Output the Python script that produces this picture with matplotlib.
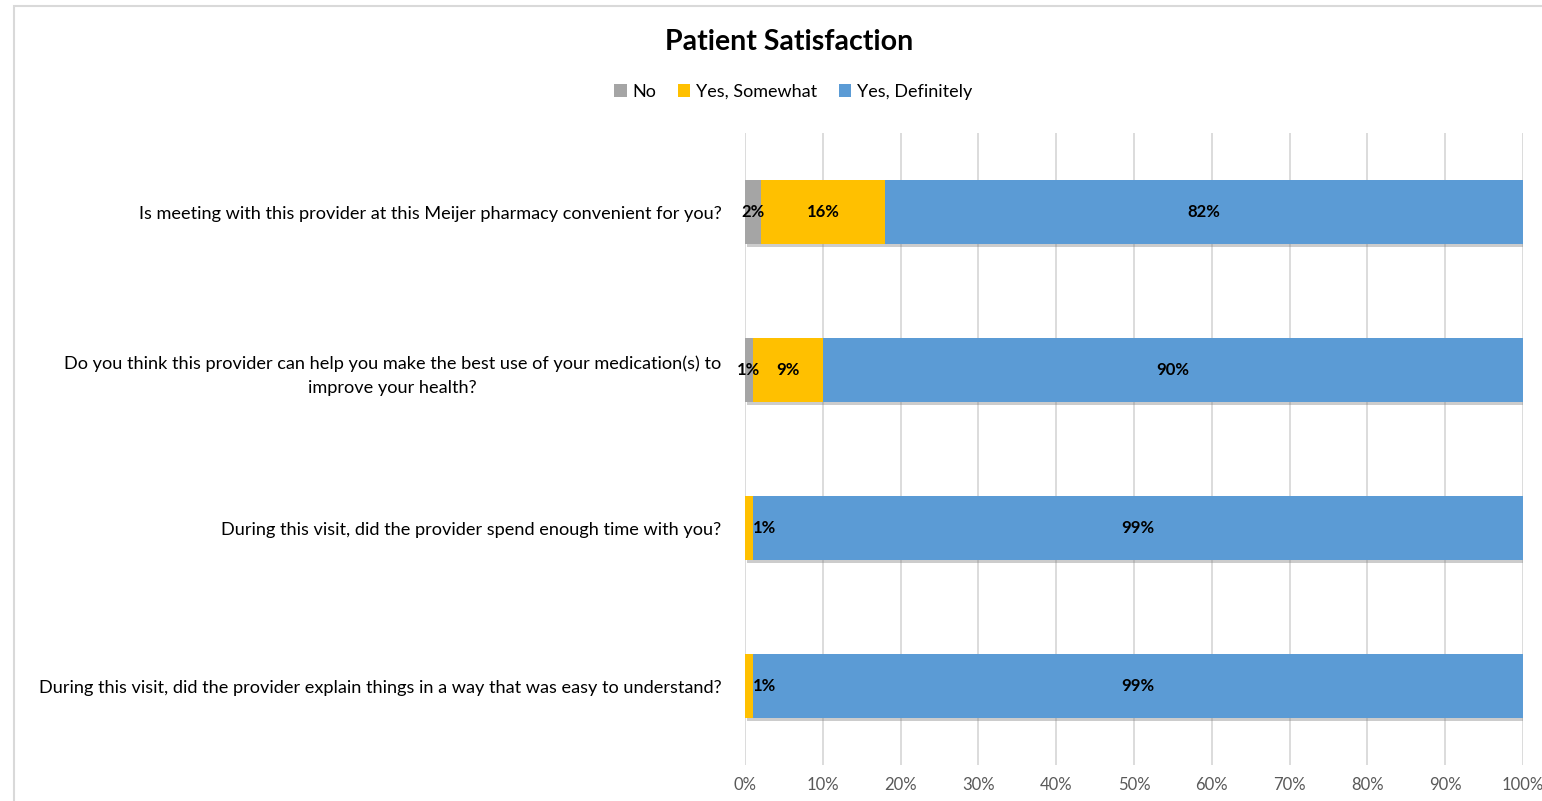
import numpy as np
import matplotlib.pyplot as plt
import matplotlib.patheffects as pe
from matplotlib.patches import Rectangle, Patch
from matplotlib.ticker import PercentFormatter
from matplotlib.transforms import ScaledTranslation

plt.rcParams['font.family'] = ['Lato', 'DejaVu Sans']

questions = [
    "Is meeting with this provider at this Meijer pharmacy convenient for you?",
    "Do you think this provider can help you make the best use of your medication(s) to\nimprove your health?",
    "During this visit, did the provider spend enough time with you?",
    "During this visit, did the provider explain things in a way that was easy to understand?",
]
series_names = ["No", "Yes, Somewhat", "Yes, Definitely"]
no_pct = [2, 1, 0, 0]
somewhat_pct = [16, 9, 1, 1]
definitely_pct = [82, 90, 99, 99]
colors = ["#a5a5a5", "#ffc000", "#5b9bd5"]

fig = plt.figure(figsize=(15.42, 8.01), dpi=100)
ax = fig.add_axes([745 / 1542, 1 - 765 / 801, 778 / 1542, 632 / 801])

# light frame around the chart area
fig.add_artist(Rectangle((14 / 1542, -0.01), 1.0, 1 - 6 / 801 + 0.01,
                         transform=fig.transFigure, fill=False,
                         edgecolor="#d9d9d9", linewidth=1.5))

y = np.arange(len(questions))
left = np.zeros(len(questions))
shadow = [pe.SimplePatchShadow(offset=(1.5, -2.5), shadow_rgbFace="#808080", alpha=0.4), pe.Normal()]
for name, vals, col in zip(series_names, [no_pct, somewhat_pct, definitely_pct], colors):
    vals = np.array(vals, dtype=float)
    bars = ax.barh(y, vals, left=left, height=0.4, color=col, zorder=3)
    for b in bars:
        b.set_path_effects(shadow)
    for i, v in enumerate(vals):
        if v <= 0:
            continue
        cx = left[i] + v / 2
        ha = "center"
        if name == "Yes, Somewhat" and v < 2:
            # tiny segment: put the label just to its right
            cx = left[i] + v + 0.05
            ha = "left"
        ax.text(cx, y[i], f"{v:.0f}%", ha=ha, va="center", fontsize=12,
                fontweight="bold", color="black", zorder=5)
    left += vals

ax.set_xlim(0, 100)
ax.set_ylim(len(questions) - 0.5, -0.5)
ax.set_xticks(np.arange(0, 101, 10))
ax.xaxis.set_major_formatter(PercentFormatter(decimals=0))
ax.set_yticks(y)
ax.set_yticklabels(questions, fontsize=13.1, color="#000000", ha="right",
                   multialignment="center", linespacing=1.6)
# nudge question labels up a little so they sit level with the bar centres
nudge = ScaledTranslation(0, 3 / 100, fig.dpi_scale_trans)
for lab in ax.get_yticklabels():
    lab.set_transform(lab.get_transform() + nudge)
ax.tick_params(axis="x", length=0, labelsize=12, labelcolor="#595959", pad=9)
ax.tick_params(axis="y", length=0, pad=17)
ax.grid(axis="x", color="#d9d9d9", linewidth=1.3, zorder=0)
for s in ax.spines.values():
    s.set_visible(False)

fig.text(789 / 1542, 1 - 42 / 801, "Patient Satisfaction", ha="center", va="center",
         fontsize=20.5, fontweight="bold")
handles = [Patch(facecolor=c, label=n) for n, c in zip(series_names, colors)]
fig.legend(handles=handles, loc="center", bbox_to_anchor=(793 / 1542, 1 - 92 / 801), ncol=3,
           frameon=False, fontsize=13, handlelength=0.7, handleheight=0.7,
           handletextpad=0.3, columnspacing=1.2)

fig.savefig("out.png", dpi=100, facecolor="white")
